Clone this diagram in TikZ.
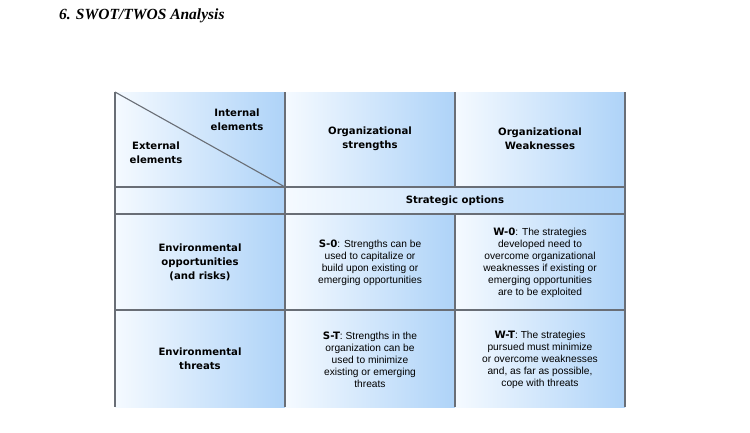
\documentclass[tikz,border=0pt]{standalone}
\usepackage{fontspec}
\newfontfamily\hdrfont{DejaVu Sans}
\newfontfamily\bodyfont{Liberation Sans}
\newfontfamily\titlefont{Liberation Serif}
\definecolor{cellL}{RGB}{245,250,255}
\definecolor{cellR}{RGB}{174,211,248}
\definecolor{gridc}{RGB}{105,110,118}
\begin{document}
\begin{tikzpicture}[x=1pt,y=-1pt,
  cell/.style={rectangle,anchor=north west,inner sep=0pt,outer sep=0pt,
    left color=cellL,right color=cellR,draw=none},
  gridline/.style={draw=gridc,line width=1.4pt},
  hdr/.style={align=center,font=\hdrfont\bfseries\fontsize{10.1}{14}\selectfont,inner sep=0pt},
  body/.style={align=center,font=\bodyfont\fontsize{10.2}{12}\selectfont,inner sep=0pt}]
\useasboundingbox (0,0) rectangle (750,432);
\fill[white] (0,0) rectangle (750,432);
% title
\node[anchor=base west,inner sep=0pt,font=\titlefont\bfseries\itshape\fontsize{15.5}{18}\selectfont] (title) at (59,19.5) {6. SWOT/TWOS Analysis};
% cells
\node[cell,minimum width=170pt,minimum height=95pt] (c11) at (115,92) {};
\node[cell,minimum width=170pt,minimum height=95pt] (c12) at (285,92) {};
\node[cell,minimum width=170pt,minimum height=95pt] (c13) at (455,92) {};
\node[cell,minimum width=170pt,minimum height=27pt] (s1) at (115,187) {};
\node[cell,minimum width=340pt,minimum height=27pt] (s2) at (285,187) {};
\node[cell,minimum width=170pt,minimum height=96pt] (c31) at (115,214) {};
\node[cell,minimum width=170pt,minimum height=96pt] (c32) at (285,214) {};
\node[cell,minimum width=170pt,minimum height=96pt] (c33) at (455,214) {};
\node[cell,minimum width=170pt,minimum height=97pt] (c41) at (115,310) {};
\node[cell,minimum width=170pt,minimum height=97pt] (c42) at (285,310) {};
\node[cell,minimum width=170pt,minimum height=97pt] (c43) at (455,310) {};
% grid lines
\draw[gridline] (c11.north west) -- (c41.south west);
\draw[gridline] (c12.north west) -- (c42.south west);
\draw[gridline] (c13.north west) -- (c13.south west);
\draw[gridline] (c33.north west) -- (c43.south west);
\draw[gridline] (c13.north east) -- (c43.south east);
\draw[gridline] (c11.south west) -- (c13.south east);
\draw[gridline] (s1.south west) -- (s2.south east);
\draw[gridline] (c31.south west) -- (c33.south east);
\draw[draw=gridc,line width=1.1pt] (c11.north west) -- (c11.south east);
% texts
\node[hdr] (tint) at (237,120) {Internal\\elements};
\node[hdr] (text) at (156,153) {External\\elements};
\node[hdr] (tos) at (370,139) {Organizational\\strengths};
\node[hdr] (tow) at (540,139) {Organizational\\Weaknesses};
\node[hdr] (tso) at (455,201) {Strategic options};
\node[hdr] (teo) at (200,262) {Environmental\\opportunities\\(and risks)};
\node[hdr] (tet) at (200,359) {Environmental\\threats};
\node[body] (tS0) at (370,263) {{\hdrfont\bfseries S-0}: Strengths can be\\used to capitalize or\\build upon existing or\\emerging opportunities};
\node[body] (tW0) at (540,262.5) {{\hdrfont\bfseries W-0}: The strategies\\developed need to\\overcome organizational\\weaknesses if existing or\\emerging opportunities\\are to be exploited};
\node[body] (tST) at (370,359.5) {{\hdrfont\bfseries S-T}: Strengths in the\\organization can be\\used to minimize\\existing or emerging\\threats};
\node[body] (tWT) at (540,359.5) {{\hdrfont\bfseries W-T}: The strategies\\pursued must minimize\\or overcome weaknesses\\and, as far as possible,\\cope with threats};
\end{tikzpicture}
\end{document}
